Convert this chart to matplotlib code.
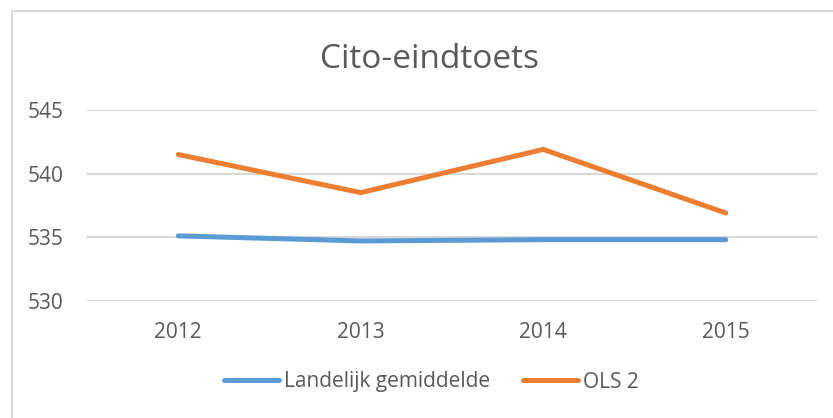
import matplotlib.pyplot as plt
from matplotlib.patches import Rectangle

# Cito-eindtoets scores per jaar
jaren = ["2012", "2013", "2014", "2015"]
landelijk = [535.1, 534.7, 534.8, 534.8]
ols2 = [541.5, 538.5, 541.9, 536.9]
y_ticks = [530, 535, 540, 545]

blue = "#5B9BD5"
orange = "#ED7D31"
text_col = "#595959"
grid_col = "#D9D9D9"

plt.rcParams["font.family"] = ["Open Sans", "DejaVu Sans"]

W, H = 833, 418
fig = plt.figure(figsize=(W / 100, H / 100), dpi=100)
ax = fig.add_axes([87 / W, 1 - 300.7 / H, 730 / W, 190.7 / H])

x = list(range(len(jaren)))
ax.plot(x, landelijk, color=blue, lw=3.6, solid_capstyle="round", label="Landelijk gemiddelde", zorder=3)
ax.plot(x, ols2, color=orange, lw=3.6, solid_capstyle="round", label="OLS 2", zorder=3)

ax.set_xlim(-0.5, len(jaren) - 0.5)
ax.set_ylim(530, 545)
ax.set_xticks(x)
ax.set_xticklabels(jaren)
ax.set_yticks(y_ticks)
ax.yaxis.grid(True, color=grid_col, lw=1.5)
ax.set_axisbelow(True)
for s in ax.spines.values():
    s.set_visible(False)
ax.tick_params(axis="both", length=0, labelsize=15, colors=text_col)
ax.tick_params(axis="y", pad=17)
ax.tick_params(axis="x", pad=15)

fig.text(429.5 / W, 1 - 68 / H, "Cito-eindtoets", ha="center", va="baseline",
         fontsize=24, color=text_col)

handles, labels = ax.get_legend_handles_labels()
leg = fig.legend(handles, labels, loc="center", bbox_to_anchor=(431.5 / W, 1 - 382 / H),
                 ncol=2, frameon=False, fontsize=15, handlelength=2.64,
                 handletextpad=0.24, columnspacing=1.6)
for t in leg.get_texts():
    t.set_color(text_col)

# chart border (Excel chart area)
fig.add_artist(Rectangle((11.5 / W, -0.1), 2, 1.1 - 11.5 / H, transform=fig.transFigure,
                         fill=False, edgecolor=grid_col, lw=1.5))

fig.savefig("out.png", dpi=100)
